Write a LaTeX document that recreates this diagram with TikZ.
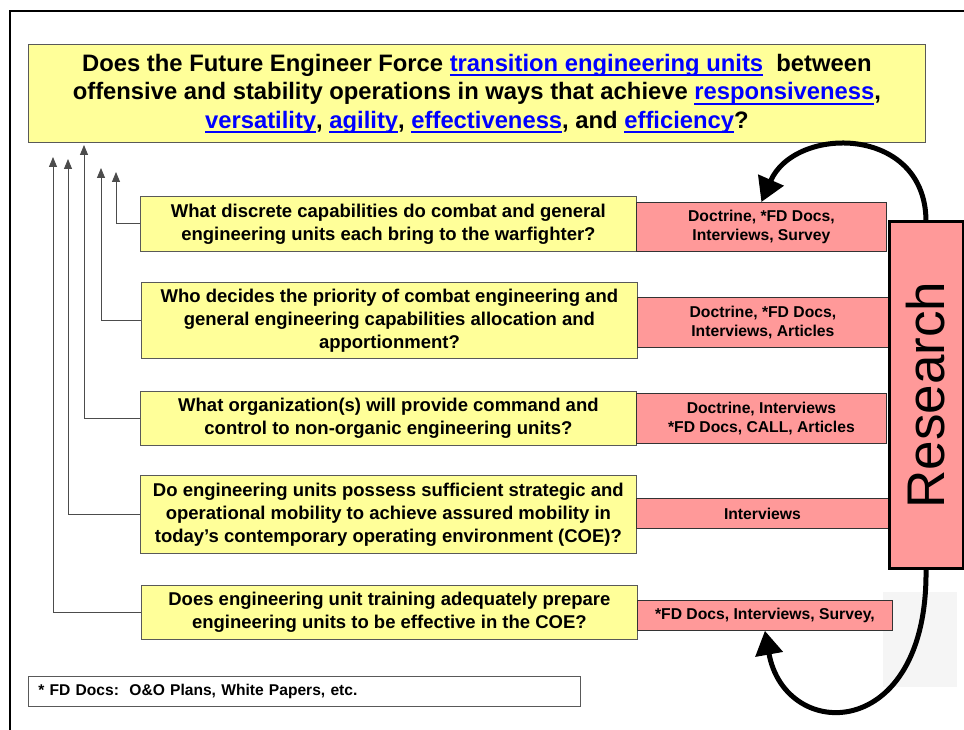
\documentclass[tikz,border=0pt]{standalone}
\usepackage{fontspec}
\setmainfont{Liberation Sans}
\usetikzlibrary{arrows.meta}
\definecolor{qyellow}{HTML}{FFFF99}
\definecolor{qpink}{HTML}{FF9999}
\definecolor{lnk}{HTML}{0000FF}
\newcommand{\lk}[1]{\textcolor{lnk}{\setbox0\hbox{#1}\rlap{\rule[-5pt]{\wd0}{2pt}}\box0}}
\begin{document}
\begin{tikzpicture}[x=1pt,y=-1pt,
  ybox/.style={draw=black!65, fill=qyellow, line width=0.8pt, align=center, font=\bfseries, inner sep=0pt, anchor=north west},
  pbox/.style={draw=black!80, fill=qpink, line width=0.8pt, align=center, font=\bfseries, inner sep=0pt, anchor=north west},
  qfont/.style={font=\bfseries\fontsize{18.5}{23}\selectfont},
  pfont/.style={font=\bfseries\fontsize{15.7}{18.5}\selectfont},
  conn/.style={draw=black!70, line width=0.9pt, -{Triangle[length=10pt,width=8pt]}},
  bigarrow/.style={line width=5pt, -{Triangle[length=24pt,width=27pt]}}]
\useasboundingbox (0,0) rectangle (964,730);
\fill[white] (0,0) rectangle (964,730);
\draw[line width=2.5pt] (10,730) -- (10,11) -- (964,11);
\fill[black!4] (883,592) rectangle (957,687);
% title
\node[ybox, minimum width=897pt, minimum height=98pt, font=\bfseries\fontsize{23.8}{28.5}\selectfont] (top) at (28,44)
 {Does the Future Engineer Force \lk{transition engineering units}\ \ between\\
  offensive and stability operations in ways that achieve \lk{responsiveness},\\
  \lk{versatility}, \lk{agility}, \lk{effectiveness}, and \lk{efficiency}?};
% questions
\node[ybox, qfont, minimum width=496pt, minimum height=55pt] (q1) at (140,196)
 {What discrete capabilities do combat and general\\engineering units each bring to the warfighter?};
\node[ybox, qfont, minimum width=496pt, minimum height=76pt] (q2) at (141,282)
 {Who decides the priority of combat engineering and\\general engineering capabilities allocation and\\apportionment?};
\node[ybox, qfont, minimum width=496pt, minimum height=54pt] (q3) at (140,391)
 {What organization(s) will provide command and\\control to non-organic engineering units?};
\node[ybox, qfont, minimum width=496pt, minimum height=78pt] (q4) at (140,475)
 {Do engineering units possess sufficient strategic and\\operational mobility to achieve assured mobility in\\today’s contemporary operating environment (COE)?};
\node[ybox, qfont, minimum width=496pt, minimum height=54pt] (q5) at (141,585)
 {Does engineering unit training adequately prepare\\engineering units to be effective in the COE?};
% sources
\node[pbox, pfont, minimum width=250pt, minimum height=49pt] (p1) at (636,202)
 {Doctrine, *FD Docs,\\Interviews, Survey};
\node[pbox, pfont, minimum width=251pt, minimum height=50pt] (p2) at (637,297)
 {Doctrine, *FD Docs,\\Interviews, Articles};
\node[pbox, pfont, minimum width=250pt, minimum height=50pt] (p3) at (636,393)
 {Doctrine, Interviews\\*FD Docs, CALL, Articles};
\node[pbox, pfont, minimum width=252pt, minimum height=30pt] (p4) at (636,498)
 {Interviews};
\node[pbox, pfont, minimum width=255pt, minimum height=30pt] (p5) at (637,600)
 {*FD Docs, Interviews, Survey,};
% research
\node[draw=black, fill=qpink, line width=3pt, rotate=90, minimum width=346pt, minimum height=74pt, inner sep=0pt,
      font=\fontsize{53}{60}\selectfont] (res) at (926,395) {Research};
% connectors
\coordinate (t1) at (116,172);
\coordinate (t2) at (101,168);
\coordinate (t3) at (84,145);
\coordinate (t4) at (68,159);
\coordinate (t5) at (53,157);
\draw[conn] (q1.west) -| (t1);
\draw[conn] (q2.west) -| (t2);
\draw[conn] (q3.west) -| (t3);
\draw[conn] (q4.west) -| (t4);
\draw[conn] (q5.west) -| (t5);
% feedback arrows
\draw[bigarrow] (res.east) .. controls (925,125) and (795,125) .. (p1.north);
\draw[bigarrow] (res.west) .. controls (928,743) and (785,743) .. (p5.south);
% footnote
\node[draw=black!65, line width=0.8pt, anchor=north west, minimum width=552pt, minimum height=30pt,
      inner xsep=10pt, inner ysep=0pt, text width=532pt, align=left, font=\bfseries\fontsize{15.6}{18}\selectfont] (fn) at (28,676)
 {* FD Docs:\ \ O\&O Plans, White Papers, etc.};
\end{tikzpicture}
\end{document}
